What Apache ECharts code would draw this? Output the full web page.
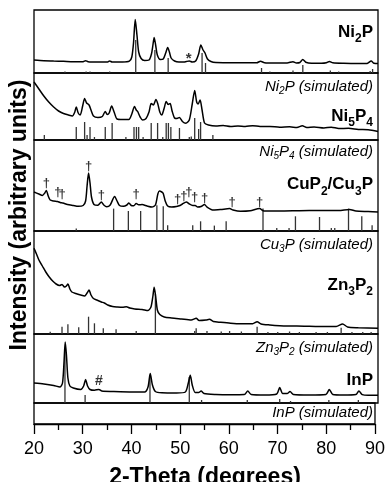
<!DOCTYPE html>
<html>
<head>
<meta charset="utf-8">
<script src="https://cdn.jsdelivr.net/npm/echarts@6/dist/echarts.min.js"></script>
<style>html,body{margin:0;padding:0;background:#fff}#c{width:388px;height:482px}</style>
</head>
<body>
<div id="c"></div>
<script>
// ---------------- data (2-theta in degrees, intensity in arbitrary units) ----------------
const xTicks = [20, 30, 40, 50, 60, 70, 80, 90];

const ni2pExp = [[20,13],[22,12.3],[24,12],[26,11.7],[28,11.3],[30,11.3],[30.5,12.3],[31,11.3],[33,11],[35,11],[35.4,12],[35.9,11],[38,11],[39.4,11.8],[39.9,16],[40.25,30],[40.6,53.5],[40.95,38],[41.3,21],[41.8,14.5],[42.5,12.5],[43.4,13],[43.9,19],[44.2,28],[44.45,35.5],[44.75,28],[45.1,18],[45.7,13.5],[46.3,14],[46.8,20],[47.2,25.5],[47.55,21],[47.9,15],[48.6,12],[49.5,11],[50.5,11],[51,11.5],[51.6,12],[52.2,11],[52.9,12],[53.5,19],[53.95,28],[54.4,23],[54.8,20],[55.3,14],[56,11.5],[57,10.5],[60,10.3],[63,10.2],[65.3,10.2],[66.1,11.8],[66.9,10.3],[69,10],[71.5,10],[72.7,11.3],[73.4,10],[74.1,10.5],[74.7,13.5],[75.3,10.8],[76.5,9.8],[78.5,9.8],[79.5,10.3],[80.1,11.5],[80.8,10.2],[83,9.7],[86,9.5],[87.8,9.6],[88.6,12],[89.2,9.7],[90,9.4]];
const ni2pSim = [[26.3,1.5],[30.6,1.5],[31.4,1.5],[35.4,1.5],[40.7,33],[44.6,23],[47.3,15],[54.2,20],[54.9,10],[66.3,5],[68.0,1.5],[72.7,2.5],[74.7,8],[80.3,2.5],[82.0,1.5],[88.4,2],[88.9,4]];

const ni5p4Exp = [[20,58],[21,51],[22,44],[23,38],[24,33],[25,29],[26,26.5],[27,25],[27.8,24],[28.3,28],[28.6,33],[29,27],[29.4,25],[29.9,34],[30.3,41.5],[30.7,37],[31.2,35],[31.6,30],[32.1,24],[33,22.5],[33.9,23.5],[34.5,28.5],[34.9,25.5],[35.3,27],[35.8,34],[36.3,28],[36.9,21],[38,20.5],[39.3,20.5],[39.9,26],[40.45,33.5],[40.8,30],[41.1,28.5],[41.6,23],[42.1,20],[42.8,21.5],[43.4,28],[43.85,36.5],[44.3,35],[44.8,40.5],[45.2,36],[45.6,28],[46,25],[46.5,32],[46.9,38.5],[47.3,35.5],[47.7,36.5],[48.1,29],[48.6,22],[49.1,21.5],[49.6,22.5],[50.2,18.5],[50.9,16.8],[51.6,20],[52.2,36],[52.7,49.5],[53.1,38],[53.4,36],[53.8,40],[54.2,30],[54.7,17],[55.5,15],[57,14],[58.5,14.5],[60,13.5],[61.5,14],[63,13.5],[64.5,14.3],[66,13.5],[68,13.5],[70,12.8],[72,13.2],[73.5,12.5],[74.6,14.2],[75.5,12.5],[77,13],[79,12],[80.5,12.8],[82,11.5],[84,11.7],[86,10.5],[88,10.2],[90,8.5]];
const ni5p4Sim = [[22.1,5],[28.6,13],[30.3,18],[30.8,5],[31.4,13],[32.3,3],[34.5,13],[35.9,17],[38.7,3],[40.35,13],[40.85,13],[41.3,13],[42.2,3],[43.85,17],[45.15,17],[46.2,3],[46.9,17],[47.35,17],[47.85,13],[49.6,12],[51.6,3],[52.0,3.5],[52.7,22],[53.5,11],[53.9,18],[56.4,5]];

const cuExp = [[20,39],[21,37],[21.7,35.5],[22.2,38],[22.5,40.5],[22.9,35],[23.3,31],[24,30],[24.8,29.5],[25.3,28.5],[25.9,28],[26.8,26.5],[28,25.5],[29,24.7],[30,25.5],[30.5,30],[30.8,45],[31.1,58],[31.4,48],[31.7,34],[32.2,26.5],[33,25.7],[33.7,29],[34.2,26],[34.8,24.2],[35.5,26],[36.4,34.5],[36.9,30],[37.4,25.5],[38.2,24.7],[38.9,26],[39.3,28],[39.8,25.5],[40.3,25.2],[40.8,27.5],[41.3,26.3],[42,26.4],[43,25],[44,24],[44.7,26],[45.2,37],[45.5,40],[46,39],[46.3,37.5],[46.7,30],[47.2,25],[48,24],[49,24.5],[49.7,25.5],[50.2,27],[51,29],[51.6,27],[52.3,25.5],[52.8,25.5],[53.3,24],[54,24.5],[54.7,26.4],[55.2,24],[56.5,21],[58,21.5],[59.8,22.4],[60.5,21],[62,19.8],[64,20.3],[65.9,22.4],[66.8,20],[70,20],[74,20.3],[78,20.5],[82,20.5],[84.2,21.5],[85.5,20],[88,19.5],[90,19]];
const cu3pSim = [[28.6,2.4],[36.2,22.4],[39.2,20],[41.7,20],[45.0,25.7],[46.3,24.7],[47.2,5.7],[52.3,5.7],[53.9,9.7],[56.7,5.4],[59.1,9.7],[66.6,22.4],[69.4,3],[71.9,3],[73.2,14.7],[78.1,14],[80.5,3],[81.2,3],[84.0,22.4],[86.7,14.7],[88.8,5.7]];
const cuDaggers = [[22.5,47.4],[24.85,39],[25.7,37],[31.1,64.5],[33.7,36],[40.8,36.2],[49.2,31.2],[50.5,34.5],[51.5,38.2],[52.7,34],[54.7,32.7],[60.3,29],[65.9,29]];

const zn3p2Exp = [[20,85.7],[20.5,80],[21,74],[21.7,68],[22.4,62],[23.1,57],[23.8,53],[24.5,50],[25.2,48.5],[25.7,49.5],[26.2,47],[26.6,48],[26.9,50],[27.3,45],[27.7,42],[28.5,40.5],[29.5,39],[30.3,38],[30.8,41],[31.2,44],[31.6,39],[32.1,35.5],[33,33.5],[33.7,32],[34.3,31],[35,29],[36,27.5],[37,27],[38,26.7],[38.8,27.3],[39.5,26],[40.5,25],[42,24.5],[43.2,23.5],[43.8,27],[44.2,38],[44.45,46.7],[44.75,38],[45.1,24],[45.6,19.5],[46.5,17],[48,16],[50,15],[52,14],[53,15.7],[53.6,13.5],[55,14],[55.7,14.7],[56.5,12.5],[58,11.7],[60,10.8],[62,10.3],[64.5,10.3],[65.4,12.3],[66.2,10],[68,9],[70,8.3],[72,8],[75,7.8],[78,7.5],[81.5,7.5],[82.8,10],[83.8,7],[86,6.3],[90,5.7]];
const zn3p2Sim = [[23.3,2.3],[25.7,7.3],[26.9,9.7],[29.1,6.7],[31.1,17.3],[32.3,10.7],[34.1,5.7],[36.7,4.7],[40.8,3],[44.7,40],[52.7,3],[53.0,5.7],[55.2,3],[58.1,2.5],[59.8,3],[62.2,2.5],[65.4,7.3],[67.6,2],[69.6,2],[72.0,2.5],[74.0,2],[77.4,2],[79.7,2],[82.5,6.3],[84.7,2],[86.9,2],[88.6,2]];

const inpExp = [[20,20],[22,19],[24,17.5],[25.3,16],[25.8,20],[26.1,40],[26.35,61],[26.6,48],[26.9,25],[27.3,17],[28,15],[29.5,13.5],[30.1,17],[30.5,23.4],[30.9,17],[31.4,13.5],[32.3,12.7],[33.2,13.6],[33.8,12],[36,11.5],[40,11],[42.5,11],[43.2,16],[43.65,29.4],[44.1,18],[44.7,11.5],[46,10.2],[49,10],[50.8,11],[51.4,20],[51.8,27.7],[52.2,18],[52.8,10.5],[53.5,10.5],[54.0,12],[54.6,9.5],[57,8.5],[60,8.2],[62.8,8.4],[63.5,12],[64.2,8.5],[67,8],[69.4,9],[70,15.4],[70.6,9.5],[71.5,9.5],[72.1,11.5],[72.8,8.5],[76,8],[79.4,8.5],[80.1,13.4],[80.8,8.5],[83,8],[85.5,8.5],[86.1,12],[86.8,8.4],[88,7.7],[90,7.7]];
const inpSim = [[26.3,55],[30.4,8],[43.6,28],[51.6,26],[54.1,3],[63.4,3],[70.0,4],[72.2,2],[80.0,3],[86.0,3]];
const ni2pStar = [[51.45,14]];
const inpHash = [[33.2,21.5]];

const sampleNames = ['{b|Ni}{bs|2}{b|P}', '{b|Ni}{bs|5}{b|P}{bs|4}', '{b|CuP}{bs|2}{b|/Cu}{bs|3}{b|P}', '{b|Zn}{bs|3}{b|P}{bs|2}', '{b|InP}'];
const simNames = ['{i|Ni}{is|2}{i|P (simulated)}', '{i|Ni}{is|5}{i|P}{is|4}{i| (simulated)}', '{i|Cu}{is|3}{i|P (simulated)}', '{i|Zn}{is|3}{i|P}{is|2}{i| (simulated)}', '{i|InP (simulated)}'];
const xTitle = '2-Theta (degrees)';
const yTitle = 'Intensity (arbitrary units)';

// ---------------- layout ----------------
const F = '"Liberation Sans", Arial, Helvetica, sans-serif';
const gridTops = [10, 73, 140, 231, 334, 403];
const gridHeights = [63, 67, 91, 103, 69, 21];
const sampleY = [23.7, 107.7, 176.3, 277, 372];
const simY = [79.5, 144.5, 237.5, 340.5, 405.5];

const grids = gridTops.map((t, i) => ({left: 34, width: 344, top: t, height: gridHeights[i], show: true, borderColor: '#000', borderWidth: 1.3, backgroundColor: 'transparent'}));
const xAxes = gridTops.map((t, i) => {
  const base = {gridIndex: i, type: 'value', min: 20, max: 90, interval: 10, splitLine: {show: false}};
  if (i < 5) return Object.assign(base, {show: false});
  return Object.assign(base, {
    axisLine: {show: true, lineStyle: {color: '#000', width: 1.3}},
    axisTick: {show: true, inside: false, length: 10, lineStyle: {color: '#000', width: 1.3}},
    minorTick: {show: true, splitNumber: 2, length: 6, lineStyle: {color: '#000', width: 1.3}},
    minorSplitLine: {show: false},
    axisLabel: {color: '#000', fontSize: 18, fontFamily: F, margin: 16, customValues: xTicks}
  });
});
const yAxes = gridTops.map((t, i) => ({gridIndex: i, type: 'value', min: 0, max: gridHeights[i], show: false, splitLine: {show: false}}));

const expData = [ni2pExp, ni5p4Exp, cuExp, zn3p2Exp, inpExp];
const simData = [ni2pSim, ni5p4Sim, cu3pSim, zn3p2Sim, inpSim];
const series = [];
expData.forEach((d, i) => {
  series.push({type: 'line', xAxisIndex: i, yAxisIndex: i, data: d, showSymbol: false, smooth: 0.25,
    lineStyle: {color: '#000', width: 1.5}, silent: true, z: 3});
});
simData.forEach((d, i) => {
  series.push({type: 'bar', xAxisIndex: i, yAxisIndex: i, data: d, barWidth: 1.3,
    itemStyle: {color: '#333'}, silent: true, z: 2});
});
function marks(data, idx, ch, size) {
  return {type: 'scatter', xAxisIndex: idx, yAxisIndex: idx, data: data, symbolSize: 1,
    itemStyle: {color: 'rgba(0,0,0,0)'}, silent: true, z: 4,
    label: {show: true, position: 'inside', formatter: ch, color: '#000', fontSize: size, fontWeight: 'bold', fontFamily: F}};
}
series.push(marks(cuDaggers, 2, '\u2020', 13));
series.push(marks(ni2pStar, 0, '*', 15));
series.push(marks(inpHash, 4, '#', 14));

const rich = {
  b: {fontSize: 17, fontWeight: 'bold', fontFamily: F, fill: '#000', verticalAlign: 'top'},
  bs: {fontSize: 12, fontWeight: 'bold', fontFamily: F, fill: '#000', verticalAlign: 'top', padding: [9, 0, 0, 0]},
  i: {fontSize: 15, fontStyle: 'italic', fontFamily: F, fill: '#000', verticalAlign: 'top'},
  is: {fontSize: 10, fontStyle: 'italic', fontFamily: F, fill: '#000', verticalAlign: 'top', padding: [7, 0, 0, 0]}
};
const graphics = [];
sampleNames.forEach((s, i) => graphics.push({type: 'text', x: 373, y: sampleY[i], silent: true,
  style: {text: s, rich: rich, align: 'right', verticalAlign: 'top'}}));
simNames.forEach((s, i) => graphics.push({type: 'text', x: 373, y: simY[i], silent: true,
  style: {text: s, rich: rich, align: 'right', verticalAlign: 'top'}}));
graphics.push({type: 'text', x: 205, y: 478, silent: true,
  style: {text: xTitle, fontSize: 23, fontWeight: 'bold', fontFamily: F, fill: '#000', align: 'center', verticalAlign: 'middle'}});
graphics.push({type: 'text', x: 20, y: 215, rotation: Math.PI / 2, silent: true,
  style: {text: yTitle, fontSize: 23, fontWeight: 'bold', fontFamily: F, fill: '#000', align: 'center', verticalAlign: 'middle'}});

const chart = echarts.init(document.getElementById('c'), null, {renderer: 'canvas'});
chart.setOption({
  animation: false,
  backgroundColor: '#fff',
  grid: grids,
  xAxis: xAxes,
  yAxis: yAxes,
  series: series,
  graphic: graphics
});
</script>
</body>
</html>
